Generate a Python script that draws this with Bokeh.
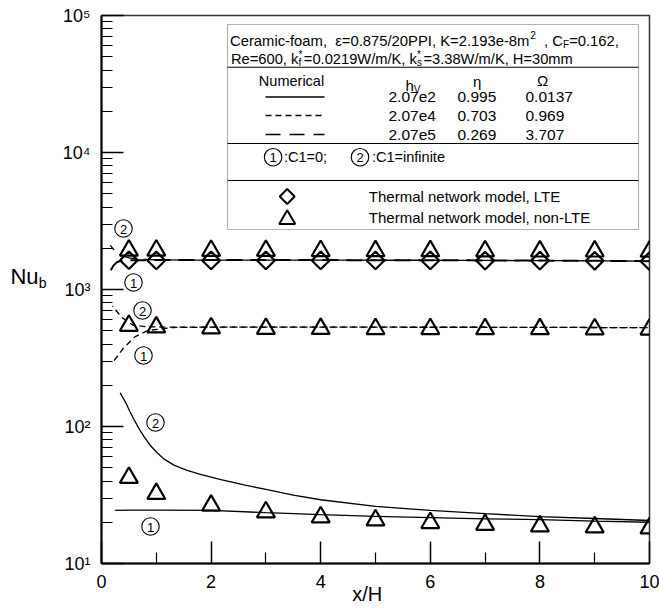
import numpy as np
from bokeh.plotting import figure
from bokeh.models import Range1d, FixedTicker, Label, BoxAnnotation, LogAxis, LinearAxis
from bokeh.embed import file_html
from bokeh.resources import INLINE

# ---------------- data ----------------
marker_x = [0.5, 1, 2, 3, 4, 5, 6, 7, 8, 9, 10]
lte_diamond = [1635, 1630, 1630, 1630, 1630, 1630, 1630, 1625, 1625, 1620, 1610]
tri_hv5 = [1930, 1930, 1920, 1920, 1915, 1910, 1910, 1905, 1900, 1900, 1895]
tri_hv4 = [545, 530, 522, 518, 517, 516, 516, 515, 515, 514, 512]
tri_hv2 = [42.3, 32.3, 26.5, 23.7, 21.8, 20.7, 19.8, 19.2, 18.7, 18.4, 18.1]

# h_v = 2.07e5 (long dash)
hv5_c1_x = [0.17, 0.22, 0.28, 0.35, 0.5, 1, 2, 3, 4, 5, 6, 7, 8, 9, 10]
hv5_c1_y = [1380, 1500, 1580, 1620, 1635, 1640, 1640, 1640, 1640, 1635, 1635, 1630, 1625, 1620, 1610]
hv5_c2_x = [0.16, 0.25, 0.37, 0.5, 0.7, 1.0, 1.5, 2, 3, 4, 5, 6, 7, 8, 9, 10]
hv5_c2_y = [2100, 1900, 1770, 1700, 1660, 1645, 1640, 1640, 1640, 1640, 1635, 1635, 1630, 1625, 1620, 1610]

# h_v = 2.07e4 (short dash)
hv4_c1_x = [0.23, 0.39, 0.6, 0.84, 1.3, 2, 3, 4, 5, 6, 7, 8, 9, 10]
hv4_c1_y = [303, 369, 449, 502, 528, 531, 531, 531, 531, 530, 530, 529, 528, 526]
hv4_c2_x = [0.2, 0.36, 0.57, 0.8, 1.2, 2, 3, 4, 5, 6, 7, 8, 9, 10]
hv4_c2_y = [760, 630, 550, 535, 531, 531, 531, 531, 531, 530, 530, 529, 528, 526]

# h_v = 2.07e2 (solid)
hv2_c1_x = [0.25, 0.5, 1, 2, 3, 4, 5, 6, 7, 8, 9, 10]
hv2_c1_y = [24.4, 24.5, 24.5, 24.4, 23.5, 22.7, 22.1, 21.6, 21.2, 20.9, 20.4, 20.0]
hv2_c2_x = [0.34, 0.4, 0.45, 0.52, 0.6, 0.7, 0.78, 0.9, 1.02, 1.15, 1.33, 1.55, 1.82, 2.18,
            2.6, 3, 3.5, 4, 5, 6, 7, 8, 9, 10]
hv2_c2_y = [176, 160, 147, 128, 111, 94, 84, 72, 64, 57.5, 52, 48, 44.5, 41,
            37.5, 34.7, 31.5, 29.2, 26.1, 24.4, 23.1, 22.0, 21.3, 20.6]

x_ticks = [0, 2, 4, 6, 8, 10]
x_minor = [1, 3, 5, 7, 9]
y_ticks = [10, 100, 1000, 10000, 100000]
y_tick_labels = ["10¹", "10²", "10³", "10⁴", "10⁵"]

legend_rows = [("2.07e2", "0.995", "0.0137"),
               ("2.07e4", "0.703", "0.969"),
               ("2.07e5", "0.269", "3.707")]

# ---------------- layout ----------------
FONT = "Liberation Sans"
ML, MT, FW, FH = 101, 15, 548, 548
MR, MB = 10, 45
X0 = ML              # canvas px of x=0
SX = FW / 10.0
Y1 = MT + FH         # canvas px of y=10
SY = FH / 4.0


def px_x(px):
    return (px - X0) / SX


def px_y(py):
    return 10 ** (1 + (Y1 - py) / SY)


p = figure(frame_width=FW, frame_height=FH, min_border_left=ML, min_border_right=MR,
           min_border_top=MT, min_border_bottom=MB,
           x_range=Range1d(0, 10), y_range=Range1d(10, 1e5), y_axis_type="log",
           output_backend="svg", toolbar_location=None)
p.background_fill_color = "white"
p.border_fill_color = "white"
p.xgrid.visible = False
p.ygrid.visible = False
p.outline_line_color = "#333333"
p.outline_line_width = 1.5

p.xaxis.ticker = FixedTicker(ticks=x_ticks, minor_ticks=x_minor)
p.yaxis.ticker = FixedTicker(ticks=y_ticks,
                             minor_ticks=[k * 10 ** e for e in range(1, 5) for k in range(2, 10)])
p.yaxis.major_label_overrides = {t: s for t, s in zip(y_ticks, y_tick_labels)}
for ax in (p.xaxis, p.yaxis):
    ax.axis_line_width = 2
    ax.axis_line_color = "black"
    ax.major_tick_in = 22
    ax.major_tick_out = 0
    ax.minor_tick_in = 11
    ax.minor_tick_out = 0
    ax.major_tick_line_width = 1.5
    ax.minor_tick_line_width = 1.2
    ax.major_tick_line_color = "black"
    ax.minor_tick_line_color = "black"
    ax.major_label_text_font = FONT
    ax.major_label_text_font_size = "18px"
    ax.major_label_text_color = "black"
p.xaxis.major_label_standoff = 11
p.yaxis.major_label_standoff = 11


def title_axis(axis_cls, place, tick, txt, size, standoff):
    ax = axis_cls(ticker=FixedTicker(ticks=[tick], minor_ticks=[]),
                  major_label_overrides={tick: txt})
    ax.axis_line_color = None
    ax.major_tick_line_color = None
    ax.minor_tick_line_color = None
    ax.major_tick_in = 0
    ax.major_tick_out = 0
    ax.minor_tick_in = 0
    ax.minor_tick_out = 0
    ax.major_label_standoff = standoff
    ax.major_label_text_font = FONT
    ax.major_label_text_font_size = size
    ax.major_label_text_color = "black"
    p.add_layout(ax, place)


# axis titles: "x/H" below, "Nu" with subscript "b" at the left
title_axis(LinearAxis, "below", 4.85, "x/H", "20px", -8)
title_axis(LogAxis, "left", 1120, "b", "14px", 13)
title_axis(LogAxis, "left", 1250, "Nu", "22px", -3)

# ---------------- curves ----------------
p.line(hv2_c1_x, hv2_c1_y, line_color="black", line_width=1.3)
p.line(hv2_c2_x, hv2_c2_y, line_color="black", line_width=1.3)
p.line(hv4_c1_x, hv4_c1_y, line_color="black", line_width=1.3, line_dash="6 4")
p.line(hv4_c2_x, hv4_c2_y, line_color="black", line_width=1.3, line_dash="6 4", line_dash_offset=5)
p.line(hv5_c1_x, hv5_c1_y, line_color="black", line_width=2, line_dash="16 8")
p.line(hv5_c2_x, hv5_c2_y, line_color="black", line_width=1.3, line_dash="16 8", line_dash_offset=10)

# markers
p.scatter(marker_x, lte_diamond, marker="square", angle=np.pi / 4, size=12.5,
          fill_color=None, line_color="black", line_width=2.2)
for ys in (tri_hv5, tri_hv4, tri_hv2):
    p.scatter(marker_x, ys, marker="triangle", size=18,
              fill_color=None, line_color="black", line_width=2.2)

# ---------------- text helpers ----------------
NB = "\u00a0"
W = {' ': 278, NB: 278, ',': 278, '-': 333, '.': 278, '/': 278, ':': 278, ';': 278, '=': 584,
     '*': 389, 'A': 667, 'C': 722, 'E': 667, 'F': 611, 'H': 722, 'I': 278, 'K': 667, 'L': 556,
     'M': 833, 'N': 722, 'P': 667, 'R': 722, 'T': 611, 'V': 667, 'W': 944,
     'a': 556, 'b': 556, 'c': 500, 'd': 556, 'e': 556, 'f': 278, 'h': 556, 'i': 222, 'k': 500,
     'l': 222, 'm': 833, 'n': 556, 'o': 556, 'r': 333, 's': 500, 't': 278, 'w': 722,
     'ε': 500}


def tw(s, size):
    return sum(W.get(c, 556) for c in s) / 1000.0 * size


def lab(text, px, py, size, align="left", baseline="middle"):
    p.add_layout(Label(x=px_x(px), y=px_y(py), text=text, text_font=FONT,
                       text_font_size=f"{size}px", text_align=align,
                       text_baseline=baseline, text_color="black"))


def rich(pieces, x0, base, size):
    x = x0
    s2 = size * 0.68
    for txt, kind in pieces:
        if kind == "n":
            lab(txt, x, base, size, baseline="alphabetic")
            x += tw(txt, size)
        elif kind == "sub":
            lab(txt, x, base + 4, s2, baseline="alphabetic")
            x += tw(txt, s2)
        elif kind == "sup":
            lab(txt, x, base - 6, s2, baseline="alphabetic")
            x += tw(txt, s2)
        else:
            sb, sp = txt
            lab(sb, x, base + 4, s2, baseline="alphabetic")
            lab(sp, x, base - 4, s2, baseline="alphabetic")
            x += max(tw(sb, s2), tw(sp, s2)) + 1.5


# circled labels on the plot
circ_px = [(123, 228, "2"), (133, 282, "1"), (142, 310, "2"), (143, 355, "1"),
           (155, 422, "2"), (150, 526, "1"), (272.6, 156.7, "1"), (359.5, 156.7, "2")]
p.scatter([px_x(c[0]) for c in circ_px], [px_y(c[1]) for c in circ_px], marker="circle",
          size=17.5, fill_color=None, line_color="black", line_width=1.1)
for cx, cy, d in circ_px:
    lab(d, cx, cy + 0.5, 13, align="center")

# ---------------- legend box ----------------
LL, LR, LT, LB = 227, 638, 24, 229
p.add_layout(BoxAnnotation(left=px_x(LL), right=px_x(LR), top=px_y(LT), bottom=px_y(LB),
                           fill_color=None, line_color="black", line_width=1.2, level="underlay"))
for sy in (66.7, 143, 180):
    p.segment(px_x(LL), px_y(sy), px_x(LR), px_y(sy), line_color="black", line_width=1.1)

rich([("Ceramic-foam," + NB + NB + "ε=0.875/20PPI," + NB + "K=2.193e-8m", "n"), ("2", "sup"),
      (NB + NB + "," + NB + "C", "n"), ("F", "sub"), ("=0.162,", "n")], 229.5, 40, 14.8)
rich([("Re=600," + NB + "k", "n"), (("f", "*"), "subsup"), ("=0.0219W/m/K," + NB + "k", "n"),
      (("s", "*"), "subsup"), ("=3.38W/m/K," + NB + "H=30mm", "n")], 230.5, 58, 14.7)

lab("Numerical", 291, 80, 14.5, align="center")
rich([("h", "n"), ("V", "sub")], 405, 85, 15)
lab("η", 476.7, 81, 15, align="center")
lab("Ω", 542, 80, 15, align="center")

row_y = [96.5, 115, 134]
dashes = [None, "6 4", "15 9"]
for (a, b, c), ry, dsh in zip(legend_rows, row_y, dashes):
    lab(a, 388, ry, 15.5)
    lab(b, 457, ry, 15.5)
    lab(c, 525, ry, 15.5)
    kw = {} if dsh is None else {"line_dash": dsh}
    p.segment(px_x(265), px_y(ry), px_x(324), px_y(ry), line_color="black",
              line_width=1.3 if dsh != "15 9" else 1.6, **kw)

lab(":C1=0;", 283.5, 156.7, 14.5)
lab(":C1=infinite", 371.5, 156.7, 14.5)

p.scatter([px_x(286.7)], [px_y(196)], marker="square", angle=np.pi / 4, size=10.5,
          fill_color=None, line_color="black", line_width=2)
p.scatter([px_x(286.7)], [px_y(219)], marker="triangle", size=16,
          fill_color=None, line_color="black", line_width=2)
lab("Thermal network model, LTE", 368.3, 196, 15)
lab("Thermal network model, non-LTE", 368.3, 216.7, 15)

open("out.html", "w").write(file_html(p, INLINE))
